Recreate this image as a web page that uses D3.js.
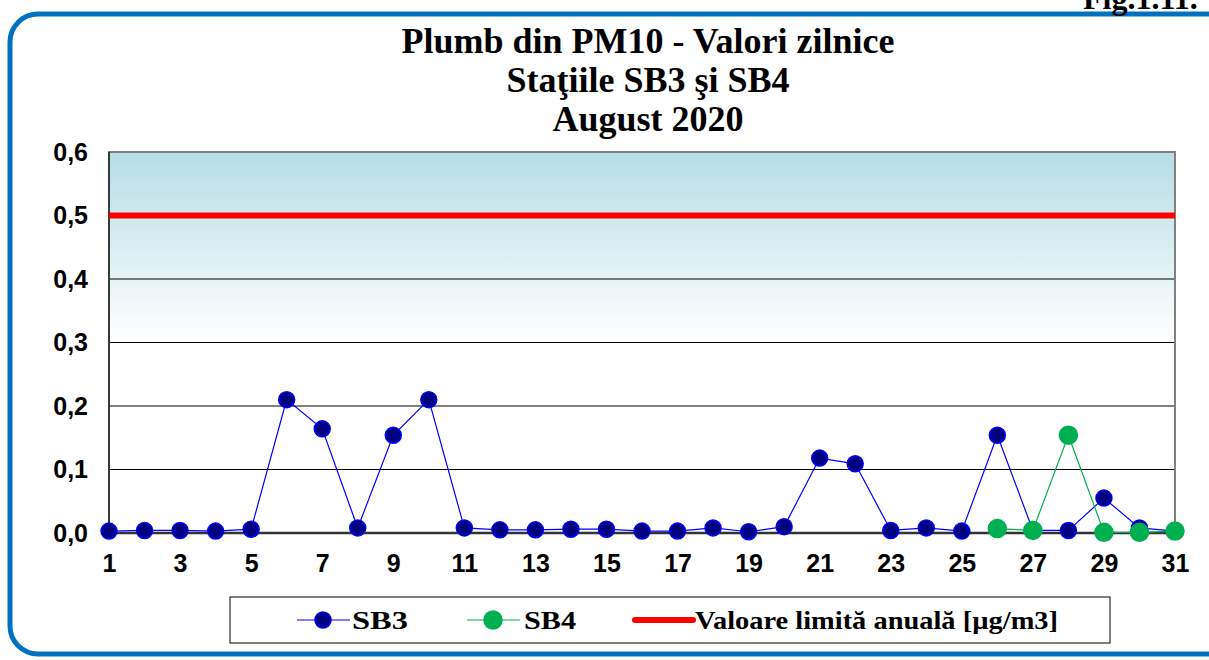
<!DOCTYPE html>
<html>
<head>
<meta charset="utf-8">
<script src="https://cdn.jsdelivr.net/npm/d3@7"></script>
<style>
  body { margin: 0; background: #fff; }
  svg { display: block; }
  .serif { font-family: "Liberation Serif", "Times New Roman", Times, serif; font-weight: bold; }
  .sans { font-family: "Liberation Sans", Arial, Helvetica, sans-serif; font-weight: bold; }
</style>
</head>
<body>
<svg id="chart"></svg>
<script>
// Data
const days = d3.range(1, 32);
const sb3 = [0.003, 0.004, 0.004, 0.003, 0.006, 0.21, 0.164, 0.008, 0.154, 0.21,
  0.008, 0.005, 0.005, 0.006, 0.006, 0.003, 0.003, 0.008, 0.002, 0.01,
  0.118, 0.109, 0.004, 0.008, 0.003, 0.154, 0.004, 0.004, 0.055, 0.008, 0.003];
const sb4 = [null, null, null, null, null, null, null, null, null, null,
  null, null, null, null, null, null, null, null, null, null,
  null, null, null, null, null, 0.007, 0.004, 0.154, 0.001, 0.001, 0.003];
const limitValue = 0.5;
const yTicks = [0, 0.1, 0.2, 0.3, 0.4, 0.5, 0.6];
const titleLines = ["Plumb din PM10 - Valori zilnice", "Staţiile SB3 şi SB4", "August 2020"];
const legendItems = ["SB3", "SB4", "Valoare limită anuală [µg/m3]"];

let width = 1209,
  height = 660;

let svg = d3.select("#chart").attr("width", width).attr("height", height);

const margin = { left: 109, right: 1175, top: 152, bottom: 533 };

let x = d3.scaleLinear().domain([1, 31]).range([margin.left, margin.right]);
let y = d3.scaleLinear().domain([0, 0.6]).range([margin.bottom, margin.top]);

// outer rounded frame
svg
  .append("rect")
  .attr("x", 10)
  .attr("y", 14)
  .attr("width", 1240)
  .attr("height", 640)
  .attr("rx", 28)
  .attr("fill", "none")
  .attr("stroke", "#0070c0")
  .attr("stroke-width", 5);

// figure label (cut at top right, like the source)
svg
  .append("text")
  .attr("class", "serif")
  .attr("x", 1083)
  .attr("y", 9)
  .attr("font-size", 32)
  .text("Fig.1.11.");

// title
svg
  .append("g")
  .selectAll("text")
  .data(titleLines)
  .enter()
  .append("text")
  .attr("class", "serif")
  .attr("x", 648)
  .attr("y", (d, i) => 53 + i * 39)
  .attr("text-anchor", "middle")
  .attr("font-size", 36)
  .text((d) => d);

// background gradient
let grad = svg
  .append("defs")
  .append("linearGradient")
  .attr("id", "bg")
  .attr("x1", 0)
  .attr("y1", 0)
  .attr("x2", 0)
  .attr("y2", 1);
grad.append("stop").attr("offset", "0%").attr("stop-color", "#b5dde5");
grad.append("stop").attr("offset", "50%").attr("stop-color", "#ffffff");
grad.append("stop").attr("offset", "100%").attr("stop-color", "#ffffff");

svg
  .append("rect")
  .attr("x", margin.left)
  .attr("y", margin.top)
  .attr("width", margin.right - margin.left)
  .attr("height", margin.bottom - margin.top)
  .attr("fill", "url(#bg)");

// gridlines
svg
  .append("g")
  .selectAll("line")
  .data(yTicks.slice(1, -1))
  .enter()
  .append("line")
  .attr("x1", margin.left)
  .attr("x2", margin.right)
  .attr("y1", (d) => y(d))
  .attr("y2", (d) => y(d))
  .attr("stroke", "#000")
  .attr("stroke-width", 1);

// plot border
svg
  .append("rect")
  .attr("x", margin.left)
  .attr("y", margin.top)
  .attr("width", margin.right - margin.left)
  .attr("height", margin.bottom - margin.top)
  .attr("fill", "none")
  .attr("stroke", "#808080")
  .attr("stroke-width", 2);

// left axis line + bottom axis line
svg
  .append("line")
  .attr("x1", margin.left)
  .attr("x2", margin.left)
  .attr("y1", margin.top)
  .attr("y2", margin.bottom)
  .attr("stroke", "#222")
  .attr("stroke-width", 1.5);
svg
  .append("line")
  .attr("x1", margin.left)
  .attr("x2", margin.right)
  .attr("y1", margin.bottom)
  .attr("y2", margin.bottom)
  .attr("stroke", "#333")
  .attr("stroke-width", 2.5);

// y axis labels
let yAxis = d3
  .axisLeft(y)
  .tickValues(yTicks)
  .tickSize(0)
  .tickPadding(21)
  .tickFormat((d) => d3.format(".1f")(d).replace(".", ","));
let yg = svg.append("g").attr("transform", `translate(${margin.left},0)`).call(yAxis);
yg.select(".domain").remove();
yg.attr("font-size", 25);
yg.selectAll("text")
  .attr("class", "sans")
  .style("font-size", "25px")
  .attr("fill", "#000");

// x axis labels
let xAxis = d3
  .axisBottom(x)
  .tickValues(days.filter((d) => d % 2 === 1))
  .tickSize(0)
  .tickPadding(21)
  .tickFormat(d3.format("d"));
let xg = svg.append("g").attr("transform", `translate(0,${margin.bottom})`).call(xAxis);
xg.select(".domain").remove();
xg.attr("font-size", 25);
xg.selectAll("text")
  .attr("class", "sans")
  .style("font-size", "25px")
  .attr("fill", "#000");

// limit line
svg
  .append("line")
  .attr("x1", margin.left)
  .attr("x2", margin.right)
  .attr("y1", y(limitValue))
  .attr("y2", y(limitValue))
  .attr("stroke", "#ff0000")
  .attr("stroke-width", 6);

// series
const series = [
  { name: "SB3", values: sb3, line: "#0000ff", fill: "#000080", stroke: "#0000ff", r: 8 },
  { name: "SB4", values: sb4, line: "#00b050", fill: "#00b050", stroke: "#00b050", r: 9 },
];

let line = d3
  .line()
  .defined((d) => d.v !== null)
  .x((d) => x(d.day))
  .y((d) => y(d.v));

series.forEach((s) => {
  let pts = days.map((day, i) => ({ day: day, v: s.values[i] }));
  svg
    .append("path")
    .datum(pts)
    .attr("d", line)
    .attr("fill", "none")
    .attr("stroke", s.line)
    .attr("stroke-width", 1.2);
  svg
    .append("g")
    .selectAll("circle")
    .data(pts.filter((d) => d.v !== null))
    .enter()
    .append("circle")
    .attr("cx", (d) => x(d.day))
    .attr("cy", (d) => y(d.v))
    .attr("r", s.r)
    .attr("fill", s.fill)
    .attr("stroke", s.stroke)
    .attr("stroke-width", 1.5);
});

// legend
let legend = svg.append("g");
legend
  .append("rect")
  .attr("x", 230)
  .attr("y", 597)
  .attr("width", 880)
  .attr("height", 46)
  .attr("fill", "#fff")
  .attr("stroke", "#000")
  .attr("stroke-width", 1);

const legendX = [297, 467, 635];
const legendTextX = [352, 524, 695];
const legendTextLen = [56, 52, 363];
const legendY = 620;

// SB3, SB4 symbols
series.forEach((s, i) => {
  legend
    .append("line")
    .attr("x1", legendX[i])
    .attr("x2", legendX[i] + 53)
    .attr("y1", legendY)
    .attr("y2", legendY)
    .attr("stroke", s.line)
    .attr("stroke-width", 1.2);
  legend
    .append("circle")
    .attr("cx", legendX[i] + 26)
    .attr("cy", legendY)
    .attr("r", s.r)
    .attr("fill", s.fill)
    .attr("stroke", s.stroke)
    .attr("stroke-width", 1.5);
});
legend
  .append("line")
  .attr("x1", legendX[2])
  .attr("x2", legendX[2] + 58)
  .attr("y1", legendY)
  .attr("y2", legendY)
  .attr("stroke", "#ff0000")
  .attr("stroke-width", 6)
  .attr("stroke-linecap", "round");

legend
  .selectAll("text")
  .data(legendItems)
  .enter()
  .append("text")
  .attr("class", "serif")
  .attr("x", (d, i) => legendTextX[i])
  .attr("y", legendY + 9)
  .attr("font-size", 26)
  .attr("textLength", (d, i) => legendTextLen[i])
  .attr("lengthAdjust", "spacingAndGlyphs")
  .text((d) => d);
</script>
</body>
</html>
